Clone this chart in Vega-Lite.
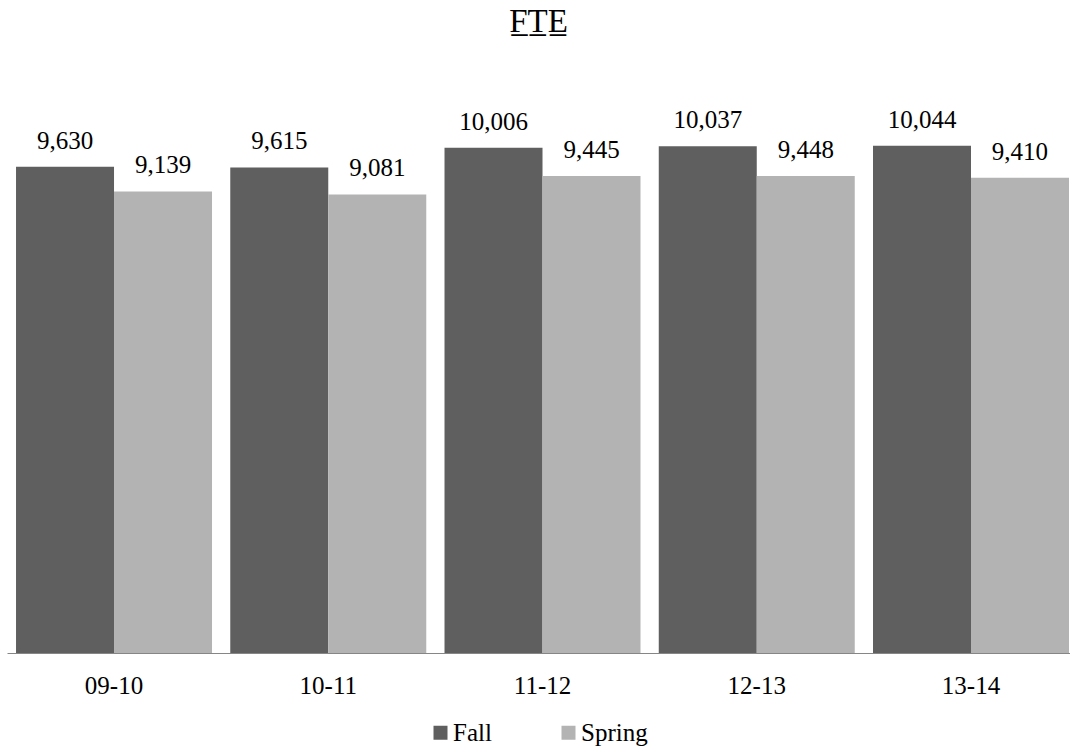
{
  "$schema": "https://vega.github.io/schema/vega-lite/v6.json",
  "width": 1063,
  "height": 606,
  "autosize": {"type": "none"},
  "padding": {"left": 7, "top": 47, "right": 0, "bottom": 97},
  "background": "white",
  "title": {"text": "F̲T̲E̲", "fontSize": 33, "font": "Liberation Serif", "fontWeight": "normal", "color": "black", "baseline": "alphabetic", "offset": 15, "dy": 33, "anchor": "middle"},
  "data": {"values": [
    {"year": "09-10", "season": "Fall", "value": 9630},
    {"year": "09-10", "season": "Spring", "value": 9139},
    {"year": "10-11", "season": "Fall", "value": 9615},
    {"year": "10-11", "season": "Spring", "value": 9081},
    {"year": "11-12", "season": "Fall", "value": 10006},
    {"year": "11-12", "season": "Spring", "value": 9445},
    {"year": "12-13", "season": "Fall", "value": 10037},
    {"year": "12-13", "season": "Spring", "value": 9448},
    {"year": "13-14", "season": "Fall", "value": 10044},
    {"year": "13-14", "season": "Spring", "value": 9410}
  ]},
  "encoding": {
    "x": {"field": "year", "type": "nominal", "sort": null,
      "scale": {"paddingInner": 0.0852, "paddingOuter": 0.0234, "align": 0.9},
      "axis": {"title": null, "labelAngle": 0, "labelFontSize": 25, "labelFont": "Liberation Serif", "labelColor": "black", "ticks": false, "tickSize": 0, "labelPadding": 20, "domainColor": "#868686", "domainWidth": 1}},
    "xOffset": {"field": "season", "type": "nominal", "sort": ["Fall", "Spring"], "scale": {"paddingInner": 0, "paddingOuter": 0}},
    "y": {"field": "value", "type": "quantitative", "scale": {"domain": [0, 12000]}, "axis": null}
  },
  "layer": [
    {"mark": {"type": "bar"},
     "encoding": {"color": {"field": "season", "type": "nominal",
       "scale": {"domain": ["Fall", "Spring"], "range": ["#5f5f5f", "#b3b3b3"]},
       "legend": {"title": null, "orient": "none", "legendX": 421, "legendY": 673, "direction": "horizontal", "symbolType": "square", "symbolSize": 196, "symbolStrokeWidth": 0, "symbolOpacity": 1, "labelFontSize": 25, "labelFont": "Liberation Serif", "labelColor": "black", "labelOffset": 0, "columnPadding": 64, "padding": 0}}}},
    {"mark": {"type": "text", "baseline": "alphabetic", "dy": -18, "fontSize": 25, "font": "Liberation Serif", "color": "black"},
     "encoding": {"text": {"field": "value", "type": "quantitative", "format": ","}}}
  ],
  "config": {"view": {"stroke": null}}
}
